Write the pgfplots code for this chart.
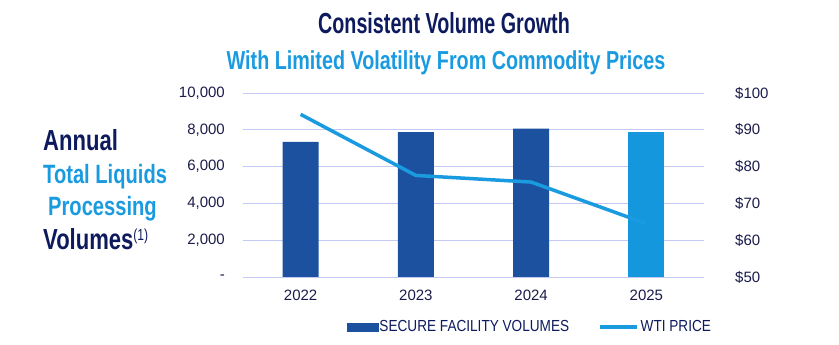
\documentclass[border=0pt]{standalone}
\usepackage{pgfplots}
\pgfplotsset{compat=1.18}
\usepackage{fontspec}
\setmainfont{Liberation Sans}
\newfontfamily\titlefont[FakeStretch=0.68]{Liberation Sans}
\newfontfamily\condfont[FakeStretch=0.76]{Liberation Sans}
\newfontfamily\legfont[FakeStretch=0.85]{Liberation Sans}
\definecolor{navy}{HTML}{0E1A5E}
\definecolor{skyb}{HTML}{1A9BE0}
\definecolor{barblue}{HTML}{1C51A0}
\definecolor{barlight}{HTML}{1497DC}
\definecolor{gridc}{HTML}{C3C8F5}
\definecolor{tickc}{HTML}{1B1B4B}
\begin{document}
\begin{tikzpicture}
\path[use as bounding box] (0,0) rectangle (839bp,345bp);
\node[anchor=base, inner sep=0pt, text=navy, font=\titlefont\bfseries\fontsize{29bp}{30bp}\selectfont] at (444bp,311.7bp) {Consistent Volume Growth};
\node[anchor=base, inner sep=0pt, text=skyb, font=\condfont\bfseries\fontsize{26bp}{27bp}\selectfont] at (446bp,275.7bp) {With Limited Volatility From Commodity Prices};
\node[anchor=base west, inner sep=0pt, text=navy, font=\condfont\bfseries\fontsize{29bp}{30bp}\selectfont] at (43bp,194.3bp) {Annual};
\node[anchor=base west, inner sep=0pt, text=skyb, font=\condfont\bfseries\fontsize{26.5bp}{27bp}\selectfont] at (43bp,161bp) {Total Liquids};
\node[anchor=base west, inner sep=0pt, text=skyb, font=\condfont\bfseries\fontsize{26.5bp}{27bp}\selectfont] at (48bp,129bp) {Processing};
\node[anchor=base west, inner sep=0pt, text=navy, font=\condfont\bfseries\fontsize{29bp}{30bp}\selectfont] at (43bp,95bp) {Volumes{\mdseries\fontsize{16bp}{16bp}\selectfont\raisebox{9bp}{(1)}}};

\begin{axis}[
  at={(243bp,68bp)}, anchor=south west,
  width=461bp, height=184bp, scale only axis,
  xmin=-0.5, xmax=3.5, ymin=0, ymax=10000,
  scaled y ticks=false,
  axis line style={draw=none},
  major tick length=0pt,
  ymajorgrids, grid style={gridc, line width=0.9bp},
  xtick={0,1,2,3}, xticklabels={2022,2023,2024,2025},
  ytick={0,2000,4000,6000,8000,10000},
  yticklabels={-,{2,000},{4,000},{6,000},{8,000},{10,000}},
  tick label style={font=\fontsize{15bp}{15bp}\selectfont, text=tickc, inner sep=0pt},
  /pgf/number format/assume math mode=true,
  yticklabel style={anchor=east, xshift=-18bp},
  xticklabel style={anchor=north, yshift=-13bp},
]
\addplot[ybar, bar width=0.314, bar shift=0pt, fill=barblue, draw=none] coordinates {(0,7350) (1,7880) (2,8060)};
\addplot[ybar, bar width=0.314, bar shift=0pt, fill=barlight, draw=none] coordinates {(3,7900)};
\end{axis}

\begin{axis}[
  at={(243bp,68bp)}, anchor=south west,
  width=461bp, height=184bp, scale only axis,
  xmin=-0.5, xmax=3.5, ymin=50, ymax=100,
  axis y line*=right, axis x line=none,
  axis line style={draw=none},
  major tick length=0pt,
  ytick={50,60,70,80,90,100},
  yticklabels={\$50,\$60,\$70,\$80,\$90,\$100},
  tick label style={font=\fontsize{15bp}{15bp}\selectfont, text=tickc, inner sep=0pt},
  /pgf/number format/assume math mode=true,
  yticklabel style={anchor=west, xshift=31bp},
  legend style={at={(0.6215,-0.2717)}, anchor=center, draw=none, fill=none,
    font=\legfont\fontsize{16bp}{16bp}\selectfont, text=navy,
    inner sep=0pt, nodes={inner sep=1.5bp},
    /tikz/every even column/.append style={column sep=28bp}},
  legend columns=2,
]
\addlegendimage{legend image code/.code={\fill[barblue] (0bp,-4bp) rectangle (31bp,4bp);}}
\addlegendentry{SECURE FACILITY VOLUMES}
\addlegendimage{legend image code/.code={\draw[skyb, line width=3.5bp] (0bp,0bp) -- (37bp,0bp);}}
\addlegendentry{WTI PRICE}
\addplot[skyb, line width=3.5bp, mark=none, forget plot] coordinates {(0,94.2) (1,77.6) (2,75.8) (3,64.5)};
\end{axis}
\end{tikzpicture}
\end{document}
